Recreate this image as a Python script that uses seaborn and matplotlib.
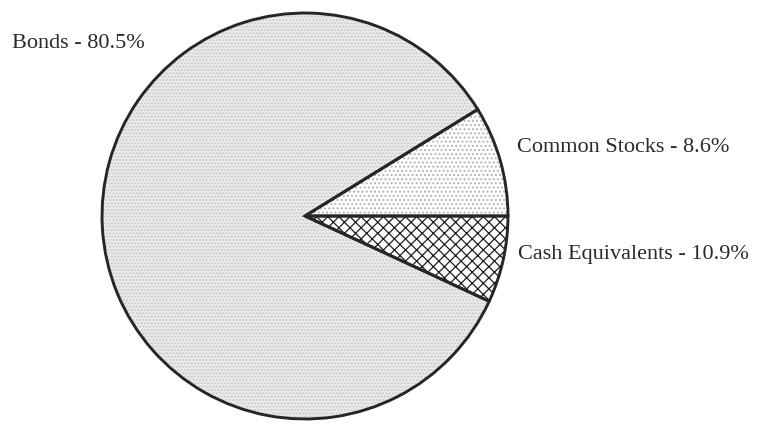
import matplotlib
matplotlib.use("Agg")
import matplotlib.pyplot as plt
import seaborn as sns

# slice shares as drawn in the picture (counter-clockwise, cash starts below 3 o'clock)
categories = ["Cash Equivalents", "Common Stocks", "Bonds"]
wedge_share = [6.9, 8.8, 84.3]
label_pct = ["10.9%", "8.6%", "80.5%"]

face_colors = ["#ffffff", "#ffffff", "#eaeaea"]
hatch_colors = ["#1e1e1e", "#b0b0b0", "#c8c8c8"]
hatches = ["xxx", "....", "....."]

sns.set_theme(style="white")
plt.rcParams["font.family"] = ["Liberation Serif", "DejaVu Serif"]
plt.rcParams["hatch.linewidth"] = 0.9

W, H = 757, 424
fig = plt.figure(figsize=(W / 100, H / 100), dpi=100)
fig.patch.set_facecolor("white")

cx, cy, r = 305, 216, 205
ax = fig.add_axes([(cx - r) / W, (H - cy - r) / H, 2 * r / W, 2 * r / H])

start = -360 * wedge_share[0] / sum(wedge_share)

# fills with hatching
wedges, _ = ax.pie(wedge_share, startangle=start, counterclock=True,
                   colors=face_colors, radius=1,
                   wedgeprops=dict(linewidth=0))
for w, hc, h in zip(wedges, hatch_colors, hatches):
    w.set_hatch(h)
    w.set_edgecolor(hc)
    w.set_linewidth(0)

# outlines
ax.pie(wedge_share, startangle=start, counterclock=True, radius=1,
       wedgeprops=dict(facecolor="none", edgecolor="#262626", linewidth=2.1))
ax.set_xlim(-1.01, 1.01)
ax.set_ylim(-1.01, 1.01)
ax.set_aspect("equal")
ax.axis("off")

label_pos = {"Bonds": (12, 44), "Common Stocks": (517, 148),
             "Cash Equivalents": (518, 255)}
for name, pct in zip(categories, label_pct):
    x, y = label_pos[name]
    fig.text(x / W, 1 - y / H, f"{name} - {pct}", fontsize=16,
             color="#2a2a2a", ha="left", va="center")

fig.savefig("out.png", dpi=100, facecolor="white")
